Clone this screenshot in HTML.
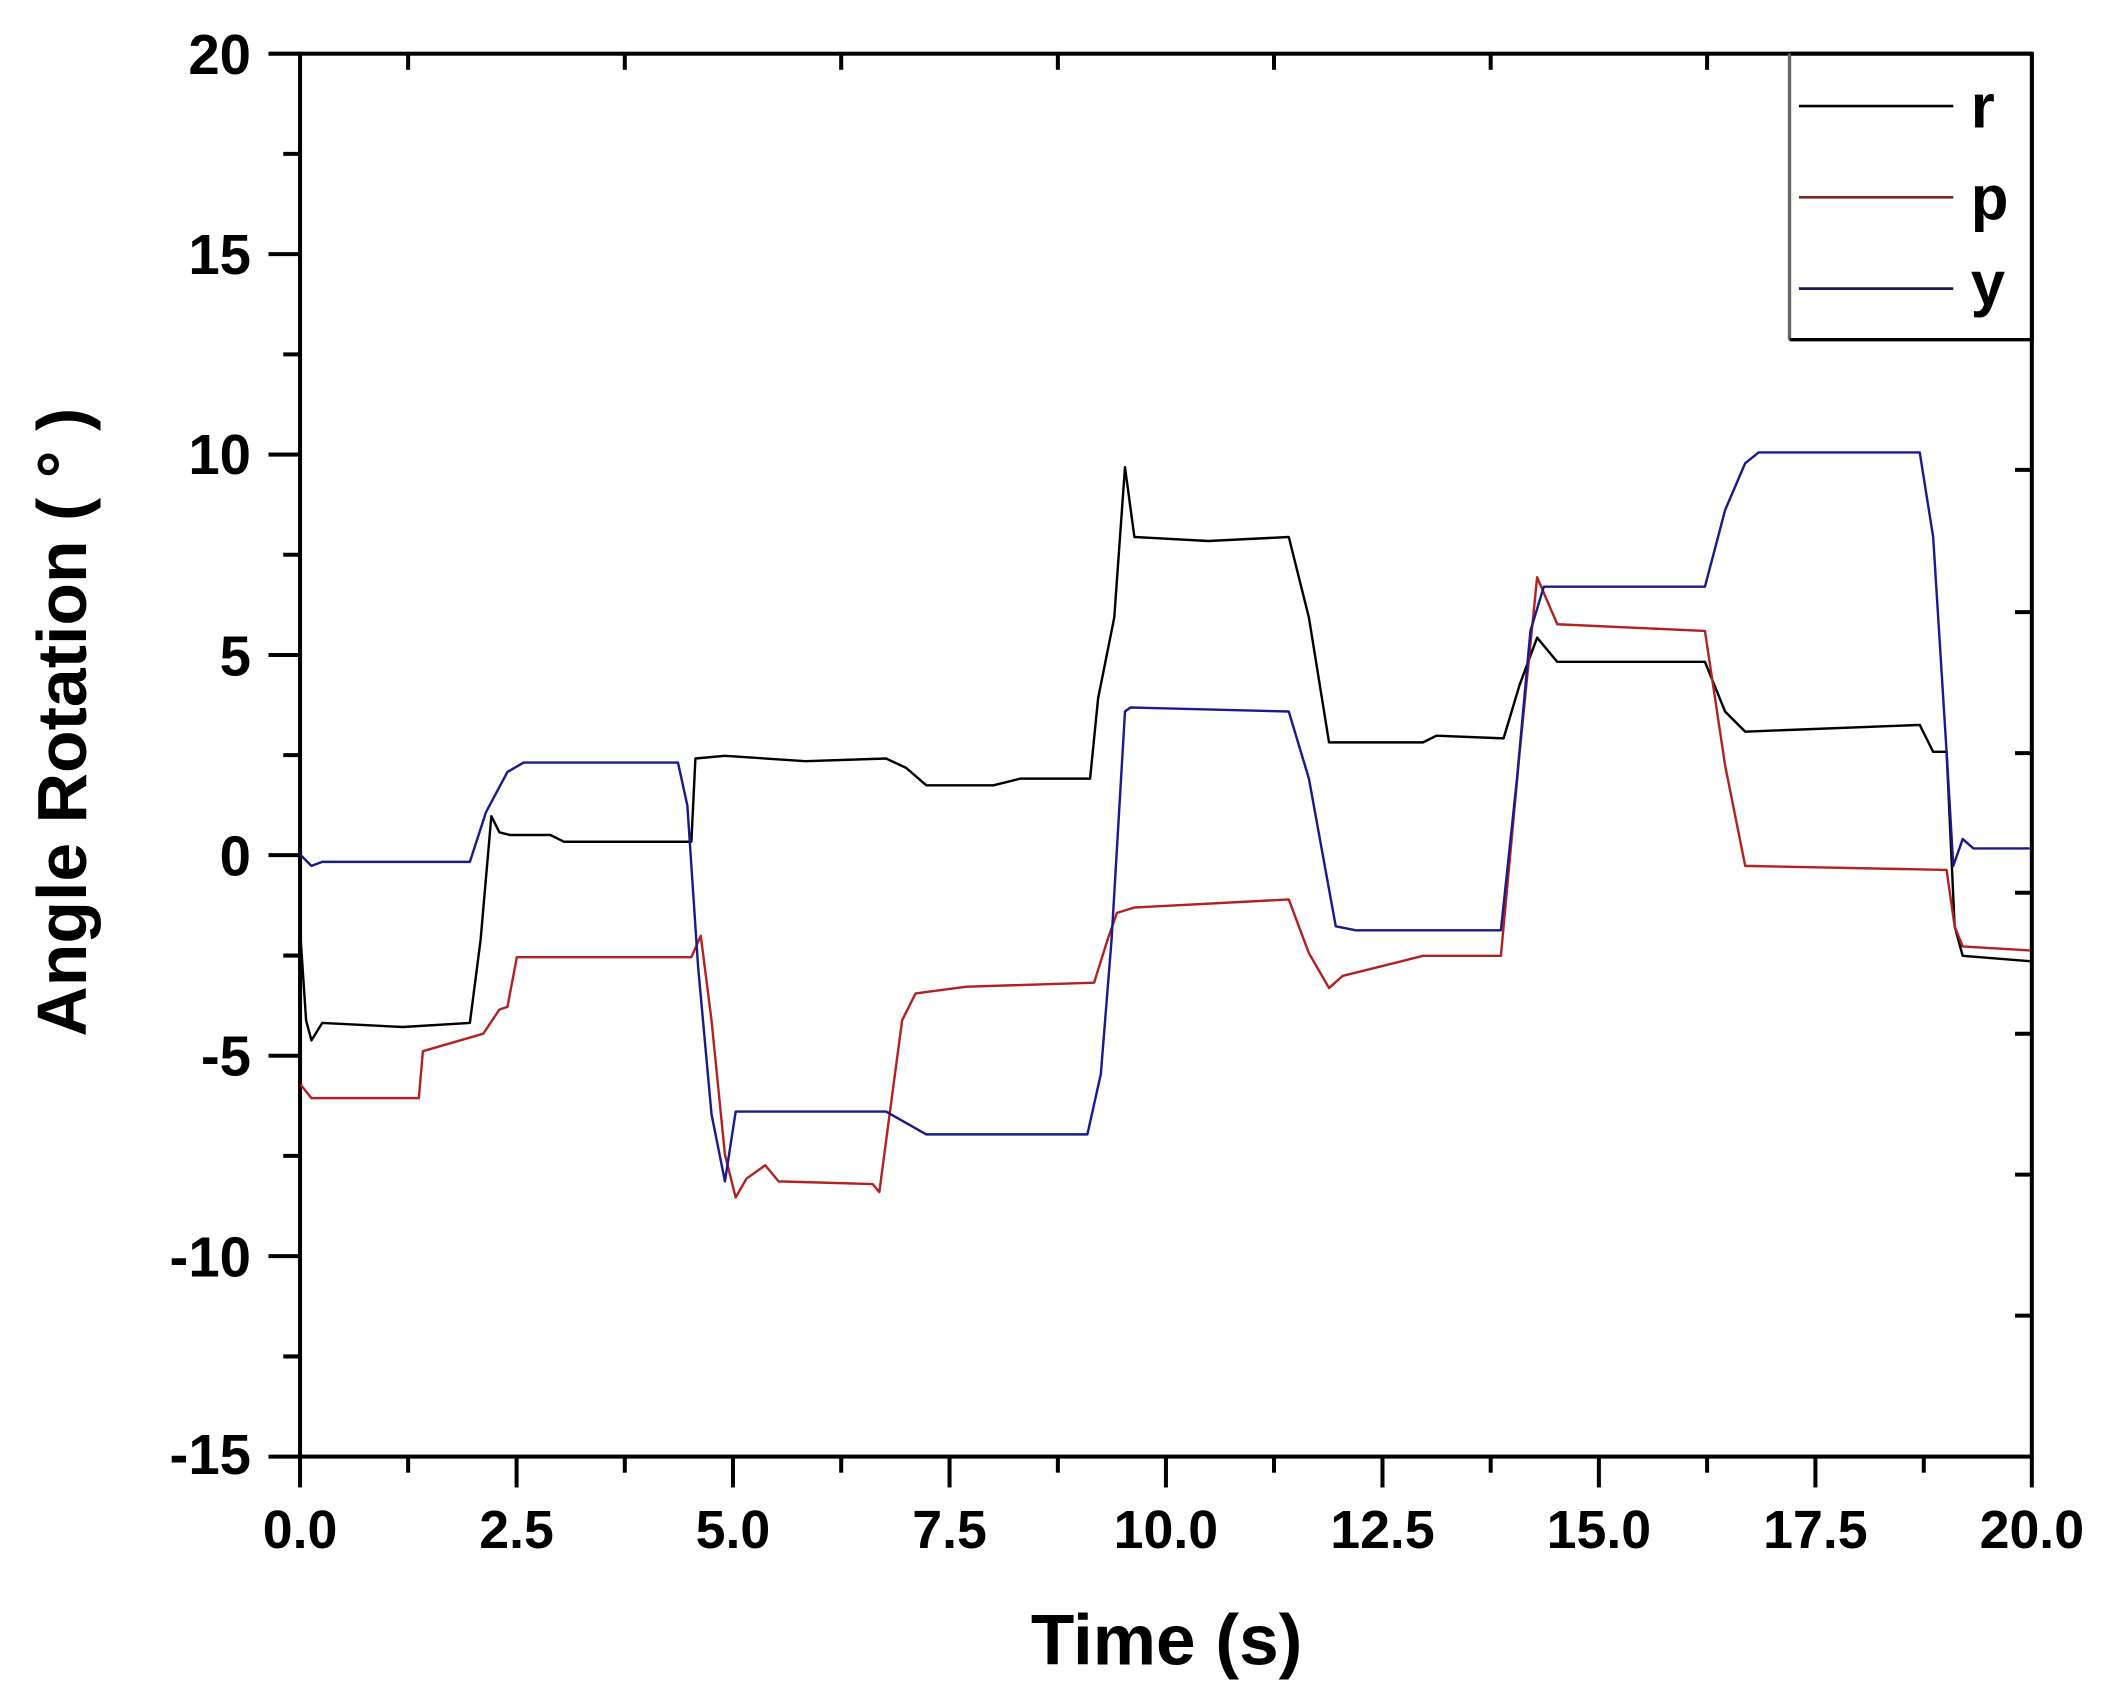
<!DOCTYPE html>
<html><head><meta charset="utf-8"><style>html,body{margin:0;padding:0;background:#fff}svg{display:block}</style></head>
<body>
<svg width="2105" height="1704" viewBox="0 0 1568 1269.3" xmlns="http://www.w3.org/2000/svg" font-family="Liberation Sans, Arial, sans-serif" font-weight="bold">
<rect width="1568" height="1270" fill="#fff"/>
<rect x="223.5" y="40" width="1290" height="1045" fill="none" stroke="#000" stroke-width="3"/>
<g stroke="#000" stroke-width="3">
<line x1="200" y1="40" x2="223.5" y2="40"/><line x1="200" y1="189.3" x2="223.5" y2="189.3"/><line x1="200" y1="338.6" x2="223.5" y2="338.6"/><line x1="200" y1="487.9" x2="223.5" y2="487.9"/><line x1="200" y1="637" x2="223.5" y2="637"/><line x1="200" y1="786.4" x2="223.5" y2="786.4"/><line x1="200" y1="935.7" x2="223.5" y2="935.7"/><line x1="200" y1="1085" x2="223.5" y2="1085"/>
<line x1="211" y1="114.6" x2="223.5" y2="114.6"/><line x1="211" y1="264" x2="223.5" y2="264"/><line x1="211" y1="413.2" x2="223.5" y2="413.2"/><line x1="211" y1="562.5" x2="223.5" y2="562.5"/><line x1="211" y1="711.8" x2="223.5" y2="711.8"/><line x1="211" y1="861" x2="223.5" y2="861"/><line x1="211" y1="1010.4" x2="223.5" y2="1010.4"/>
<line x1="223.5" y1="1085" x2="223.5" y2="1108"/><line x1="384.8" y1="1085" x2="384.8" y2="1108"/><line x1="546" y1="1085" x2="546" y2="1108"/><line x1="707.3" y1="1085" x2="707.3" y2="1108"/><line x1="868.5" y1="1085" x2="868.5" y2="1108"/><line x1="1029.8" y1="1085" x2="1029.8" y2="1108"/><line x1="1191" y1="1085" x2="1191" y2="1108"/><line x1="1352.3" y1="1085" x2="1352.3" y2="1108"/><line x1="1513.5" y1="1085" x2="1513.5" y2="1108"/>
<line x1="304" y1="1085" x2="304" y2="1097"/><line x1="465.4" y1="1085" x2="465.4" y2="1097"/><line x1="626.6" y1="1085" x2="626.6" y2="1097"/><line x1="788" y1="1085" x2="788" y2="1097"/><line x1="949" y1="1085" x2="949" y2="1097"/><line x1="1110.4" y1="1085" x2="1110.4" y2="1097"/><line x1="1271.6" y1="1085" x2="1271.6" y2="1097"/><line x1="1433" y1="1085" x2="1433" y2="1097"/>
<line x1="304" y1="40" x2="304" y2="52"/><line x1="465.4" y1="40" x2="465.4" y2="52"/><line x1="626.6" y1="40" x2="626.6" y2="52"/><line x1="788" y1="40" x2="788" y2="52"/><line x1="949" y1="40" x2="949" y2="52"/><line x1="1110.4" y1="40" x2="1110.4" y2="52"/><line x1="1271.6" y1="40" x2="1271.6" y2="52"/><line x1="1384" y1="40" x2="1384" y2="52"/>
<line x1="1501" y1="350" x2="1513.5" y2="350"/><line x1="1501" y1="456" x2="1513.5" y2="456"/><line x1="1501" y1="561" x2="1513.5" y2="561"/><line x1="1501" y1="665" x2="1513.5" y2="665"/><line x1="1501" y1="770" x2="1513.5" y2="770"/><line x1="1501" y1="875" x2="1513.5" y2="875"/><line x1="1501" y1="980" x2="1513.5" y2="980"/><line x1="1501" y1="250" x2="1513.5" y2="250"/><line x1="1501" y1="145" x2="1513.5" y2="145"/>
</g>
<g font-size="42" text-anchor="end">
<text x="187" y="55">20</text><text x="187" y="204">15</text><text x="187" y="353">10</text><text x="187" y="503">5</text><text x="187" y="652">0</text><text x="187" y="801">-5</text><text x="187" y="951">-10</text><text x="187" y="1098">-15</text>
</g>
<g font-size="40" text-anchor="middle">
<text x="223.5" y="1153">0.0</text><text x="384.8" y="1153">2.5</text><text x="546" y="1153">5.0</text><text x="707.3" y="1153">7.5</text><text x="868.5" y="1153">10.0</text><text x="1029.8" y="1153">12.5</text><text x="1191" y="1153">15.0</text><text x="1352.3" y="1153">17.5</text><text x="1513.5" y="1153">20.0</text>
</g>
<text x="869" y="1240" font-size="53" text-anchor="middle">Time (s)</text>
<text transform="translate(64,538) rotate(-90)" font-size="52" text-anchor="middle">Angle Rotation ( ° )</text>
<g fill="none" stroke-width="1.8" stroke-linejoin="round">
<polyline stroke="#000" points="224,700 228,760 232,775 240,762 300,765 350,762 358,700 366,608 372,620 380,622 410,622 420,627 515,627 518,565 540,563 600,567 660,565 675,572 690,585 740,585 760,580 812,580 818,520 830,460 838,348 845,400 900,403 960,400 975,460 990,553 1060,553 1070,548 1120,550 1132,510 1145,475 1160,493 1270,493 1285,530 1300,545 1430,540 1440,560 1450,560 1456,690 1462,712 1512,716"/>
<polyline stroke="#b22222" points="224,808 232,818 312,818 315,783 360,770 372,752 378,750 385,713 515,713 522,697 530,760 540,860 548,892 556,878 570,868 580,880 650,882 655,888 662,835 672,760 682,740 720,735 815,732 825,700 832,680 845,676 960,670 975,710 990,736 1000,727 1060,712 1118,712 1132,560 1145,430 1160,465 1270,470 1285,570 1300,645 1450,648 1456,690 1462,705 1512,708"/>
<polyline stroke="#1a1a8a" points="224,637 232,645 240,642 350,642 362,605 378,575 390,568 505,568 512,600 520,720 530,830 540,880 548,828 660,828 690,845 810,845 820,800 828,700 838,530 842,527 960,530 975,580 995,690 1010,693 1118,693 1130,580 1140,470 1150,437 1270,437 1285,380 1300,345 1310,337 1430,337 1440,400 1450,560 1455,645 1462,625 1470,632 1512,632"/>
</g>
<rect x="1333" y="40" width="180.5" height="213" fill="#fff" stroke="none"/>
<line x1="1333" y1="40" x2="1333" y2="253" stroke="#666" stroke-width="2.5"/>
<line x1="1333" y1="253" x2="1513.5" y2="253" stroke="#000" stroke-width="2.5"/>
<line x1="1513.5" y1="40" x2="1513.5" y2="253" stroke="#000" stroke-width="3"/>
<line x1="1334" y1="40" x2="1513.5" y2="40" stroke="#000" stroke-width="3"/>
<line x1="1340" y1="79" x2="1455" y2="79" stroke="#000" stroke-width="2"/>
<line x1="1340" y1="147" x2="1455" y2="147" stroke="#7a2a2a" stroke-width="2"/>
<line x1="1340" y1="215" x2="1455" y2="215" stroke="#1a1a5a" stroke-width="2"/>
<g font-size="46"><text x="1468" y="95">r</text><text x="1468" y="163">p</text><text x="1468" y="227">y</text></g>
</svg>
</body></html>
